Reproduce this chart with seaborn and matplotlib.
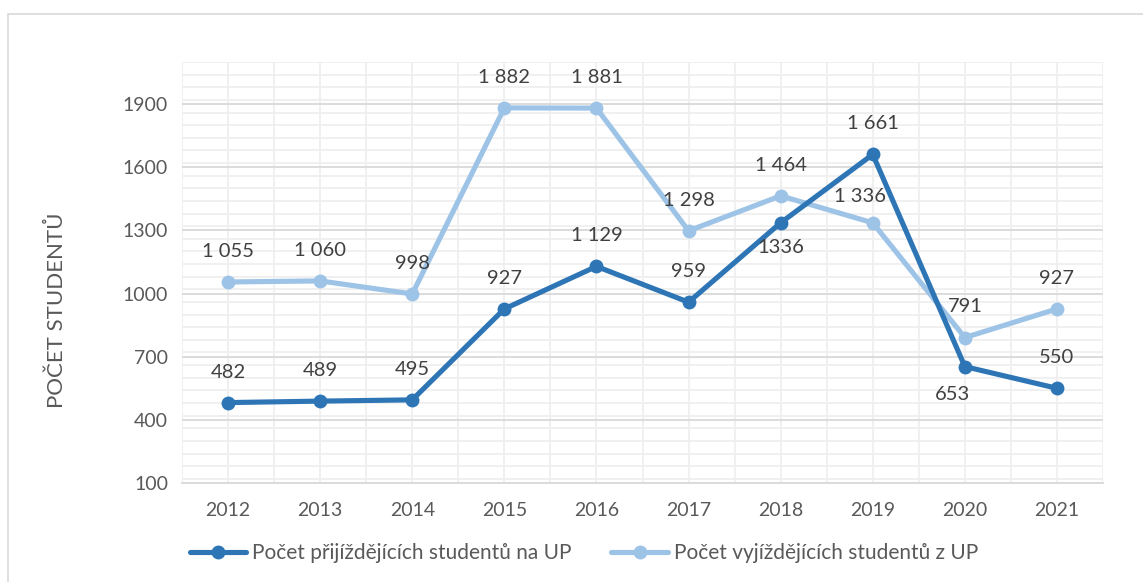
import pandas as pd
import seaborn as sns
import matplotlib.pyplot as plt
from matplotlib.patches import Rectangle
from matplotlib.ticker import MultipleLocator, FixedLocator

years = ["2012", "2013", "2014", "2015", "2016", "2017", "2018", "2019", "2020", "2021"]
incoming = [482, 489, 495, 927, 1129, 959, 1336, 1661, 653, 550]
outgoing = [1055, 1060, 998, 1882, 1881, 1298, 1464, 1336, 791, 927]
incoming_labels = ["482", "489", "495", "927", "1 129", "959", "1336", "1 661", "653", "550"]
outgoing_labels = ["1 055", "1 060", "998", "1 882", "1 881", "1 298", "1 464", "1 336", "791", "927"]
name_in = "Počet přijíždějících studentů na UP"
name_out = "Počet vyjíždějících studentů z UP"

sns.set_style("white")
plt.rcParams["font.family"] = ["Lato", "DejaVu Sans"]

df = pd.DataFrame({
    "pos": list(range(len(years))) * 2,
    "value": incoming + outgoing,
    "series": [name_in] * len(years) + [name_out] * len(years),
})

dark = "#2E75B6"
light = "#9DC3E6"
lw = 3.7
ms = 10

fig = plt.figure(figsize=(11.43, 5.82), dpi=100)
ax = fig.add_axes([182 / 1143, 1 - 483 / 582, (1103 - 182) / 1143, (483 - 62) / 582])

# grid
ax.set_ylim(100, 2100)
ax.set_xlim(-0.5, len(years) - 0.5)
ax.yaxis.set_major_locator(FixedLocator([100, 400, 700, 1000, 1300, 1600, 1900]))
ax.yaxis.set_minor_locator(MultipleLocator(60))
ax.xaxis.set_major_locator(FixedLocator(range(len(years))))
ax.xaxis.set_minor_locator(FixedLocator([i - 0.5 for i in range(len(years) + 1)]))
ax.grid(True, which="minor", axis="both", color="#efefef", linewidth=1.3)
ax.grid(True, which="major", axis="x", color="#efefef", linewidth=1.3)
ax.grid(True, which="major", axis="y", color="#d9d9d9", linewidth=1.3)
ax.set_axisbelow(True)

sns.lineplot(data=df, x="pos", y="value", hue="series", palette=[dark, light],
             hue_order=[name_in, name_out], marker="o", markersize=ms,
             markeredgewidth=0, linewidth=lw, ax=ax, legend=False)
# dark line drawn over the light one
ax.lines[0].set_zorder(3)
ax.lines[1].set_zorder(2)

for s in ["top", "right", "left"]:
    ax.spines[s].set_visible(False)
ax.spines["bottom"].set_color("#d9d9d9")
ax.spines["bottom"].set_linewidth(1.3)

ax.set_xticks(range(len(years)))
ax.set_xticklabels(years)
ax.tick_params(axis="both", which="both", length=0, labelsize=14, labelcolor="#595959")
ax.tick_params(axis="x", pad=14)
ax.tick_params(axis="y", pad=10)
ax.set_xlabel("")
ax.set_ylabel("POČET STUDENTŮ", fontsize=16, color="#595959")
ax.yaxis.set_label_coords(-0.125, 0.41)

txt = dict(ha="center", va="center", fontsize=14.5, color="#404040", textcoords="offset points")
offs_in = {6: (0, -18), 8: (-9, -20)}
for i, (v, lab) in enumerate(zip(incoming, incoming_labels)):
    dx, dy = offs_in.get(i, (0, 22))
    ax.annotate(lab, (i, v), xytext=(dx, dy), **txt)
offs_out = {7: (-9, 19)}
for i, (v, lab) in enumerate(zip(outgoing, outgoing_labels)):
    dx, dy = offs_out.get(i, (0, 22))
    ax.annotate(lab, (i, v), xytext=(dx, dy), **txt)

# legend
h_in = plt.Line2D([], [], color=dark, lw=lw, marker="o", markersize=ms, markeredgewidth=0)
h_out = plt.Line2D([], [], color=light, lw=lw, marker="o", markersize=ms, markeredgewidth=0)
fig.legend([h_in, h_out], [name_in, name_out], loc="center", bbox_to_anchor=(0.511, 0.05),
           ncol=2, frameon=False, fontsize=15, labelcolor="#595959",
           handlelength=2.7, handletextpad=0.3, columnspacing=1.9)

# outer chart border
fig.patches.append(Rectangle((8 / 1143, -0.1), 1.2, 1 - 14 / 582 + 0.1,
                             transform=fig.transFigure, fill=False,
                             edgecolor="#d9d9d9", linewidth=1.2))

fig.savefig("out.png", dpi=100)
